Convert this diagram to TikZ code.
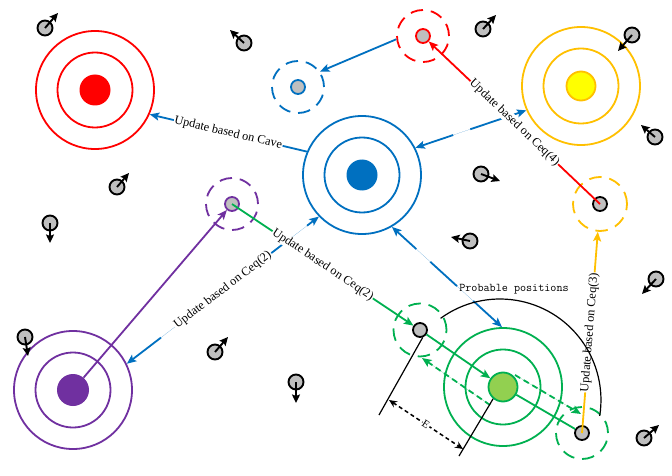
\documentclass[tikz,border=0pt]{standalone}
\usepackage{fontspec}
\setmainfont{Liberation Serif}
\usetikzlibrary{arrows.meta}
\definecolor{cred}{HTML}{FF0000}
\definecolor{cblue}{HTML}{0070C0}
\definecolor{corange}{HTML}{FFC000}
\definecolor{cpurple}{HTML}{7030A0}
\definecolor{cgreen}{HTML}{00B050}
\definecolor{clgreen}{HTML}{92D050}
\definecolor{cyellow}{HTML}{FFFF00}
\definecolor{cgray}{HTML}{BFBFBF}
\begin{document}
\begin{tikzpicture}[x=1pt,y=-1pt,
  ring/.style={circle,draw,line width=1.8pt,inner sep=0pt},
  outerring/.style={ring,minimum size=118pt},
  innerring/.style={ring,minimum size=75pt},
  core/.style={circle,inner sep=0pt,minimum size=31pt},
  halo/.style={circle,draw,line width=1.8pt,inner sep=0pt,minimum size=52pt,dash pattern=on 12.5pt off 7.9pt},
  adot/.style={circle,draw,line width=1.8pt,fill=cgray,inner sep=0pt,minimum size=14pt},
  wag/.style={circle,draw=black,line width=1.9pt,fill=cgray,inner sep=0pt,minimum size=15pt},
  warr/.style={line width=1.9pt,-{Stealth[length=8.5pt,width=8pt,inset=1.5pt]}},
  conn/.style={line width=1.8pt},
  tipend/.style={-{Stealth[length=9.5pt,width=8pt,inset=2pt]}},
  tipboth/.style={{Stealth[length=9.5pt,width=8pt,inset=2pt]}-{Stealth[length=9.5pt,width=8pt,inset=2pt]}},
  lbl/.style={font=\fontsize{12.3}{14}\selectfont,fill=white,inner sep=0.6pt,sloped},
  thinline/.style={line width=1.2pt,draw=black},
]
\useasboundingbox[fill=white] (0,0) rectangle (672,476);

% ---- targets ----
\node[outerring,draw=cred] (rt) at (95,90) {};
\node[innerring,draw=cred] (rti) at (95,90) {};
\node[core,fill=cred] (rc) at (95,90) {};

\node[outerring,draw=cblue] (bt) at (362,175) {};
\node[innerring,draw=cblue] (bti) at (362,175) {};
\node[core,fill=cblue] (bc) at (362,175) {};

\node[outerring,draw=corange] (yt) at (581,86) {};
\node[innerring,draw=corange] (yti) at (581,86) {};
\node[core,fill=cyellow,draw=corange,line width=1.8pt,minimum size=29pt] (yc) at (581,86) {};

\node[outerring,draw=cpurple] (pt) at (73,390) {};
\node[innerring,draw=cpurple] (pti) at (73,390) {};
\node[core,fill=cpurple,minimum size=32pt] (pc) at (73,390) {};

\node[outerring,draw=cgreen] (gt) at (503,387) {};
\node[innerring,draw=cgreen] (gti) at (503,387) {};
\node[core,fill=clgreen,draw=cgreen,line width=1.8pt,minimum size=29pt] (gdot) at (503,387) {};

% ---- halos and agents ----
\node[halo,draw=cred] (rah) at (423,36) {};
\node[adot,draw=cred] (ra) at (423,36) {};
\node[halo,draw=cblue] (bah) at (298,87) {};
\node[adot,draw=cblue] (ba) at (298,87) {};
\node[halo,draw=corange,minimum size=54pt] (yah) at (600,204) {};
\node[adot,draw=black] (ya) at (600,204) {};
\node[halo,draw=cpurple] (pah) at (232,204) {};
\node[adot,draw=cpurple] (pa) at (232,204) {};
\node[halo,draw=cgreen,minimum size=53pt] (g1h) at (420,330) {};
\node[adot,draw=black] (g1) at (420,330) {};
\node[halo,draw=cgreen] (g2h) at (582,433) {};
\node[adot,draw=black] (g2) at (582,433) {};

% ---- wandering agents ----
\foreach \n/\x/\y/\ex/\ey in {1/45/28/58/13, 2/244/43/230/30, 3/117/187/129/173,
  4/50/223/50/243, 5/25/337/28/356, 6/483/29/496/15, 7/632/35/618/51,
  8/655/137/641/125, 9/481/174/500/181, 10/470/241/451/237, 11/656/279/642/294,
  12/644/438/659/425, 13/215/352/228/337, 14/296/382/296/403}{
  \node[wag] (w\n) at (\x,\y) {};
  \coordinate (w\n e) at (\ex,\ey);
  \draw[warr] (w\n.center) -- (w\n e);
}

% ---- blue connectors ----
\draw[conn,draw=cblue,fill=cblue,tipend] (rah.187) -- (bah.35);
\draw[conn,draw=cblue,fill=cblue,tipend] (bt.157) -- node[lbl] {Update based on Cave} (rt.-24);
\draw[conn,draw=cblue,fill=cblue,tipboth,dash pattern=on 33pt off 18pt on 100pt off 1pt] (bt.27) -- (yt.204);
\draw[conn,draw=cblue,fill=cblue,tipboth,dash pattern=on 26pt off 19pt on 36pt off 22pt on 100pt off 1pt] (bt.-60) -- (gt.91);
\draw[conn,draw=cblue,fill=cblue,tipboth,dash pattern=on 8pt off 31pt on 14pt off 139pt on 100pt off 1pt] (bt.224) -- node[lbl] {Update based on Ceq(2)} (pt.26);

% ---- red, purple, green, yellow connectors ----
\draw[conn,draw=cred,fill=cred,tipend] (ya.center) -- node[lbl] {Update based on Ceq(4)} (ra);
\draw[conn,draw=cpurple,fill=cpurple,tipend] (pc) -- (pa);
\draw[conn,draw=cgreen,fill=cgreen,tipend] (pa.center) -- node[lbl] {Update based on Ceq(2)} (g1);
\draw[conn,draw=cgreen,fill=cgreen,tipend] (g1) -- (gdot);
\draw[conn,draw=cgreen] (gdot) -- (g2);
\coordinate (d1s) at (490,405);
\coordinate (d1e) at (422,358);
\coordinate (d2s) at (515,375);
\coordinate (d2e) at (581,414);
\draw[conn,draw=cgreen,fill=cgreen,tipend,dash pattern=on 6pt off 4pt] (d1s) -- (d1e);
\draw[conn,draw=cgreen,fill=cgreen,tipend,dash pattern=on 6pt off 4pt] (d2s) -- (d2e);
\draw[conn,draw=corange,fill=corange,tipend] (g2.center) -- node[lbl] {Update based on Ceq(3)} (yah);

% ---- probable positions ----
\draw[thinline] (440.6,318.3) arc[start angle=-126, end angle=9, radius=101];
\node[font=\ttfamily\fontsize{11.8}{13}\selectfont,inner sep=0pt] (pp) at (514,289) {Probable positions};

% ---- measurement ----
\coordinate (m1) at (379,415);
\coordinate (m2) at (459,456);
\draw[thinline] (g1.-70) -- (m1);
\draw[thinline] (gdot.230) -- (m2);
\coordinate (e1) at (389,400);
\coordinate (e2) at (463,449);
\draw[line width=1.5pt,black,dash pattern=on 4pt off 3pt,{Stealth[length=8pt,width=7pt]}-{Stealth[length=8pt,width=7pt]}] (e1) -- node[lbl,font=\fontsize{11}{13}\selectfont] {E} (e2);
\end{tikzpicture}
\end{document}
